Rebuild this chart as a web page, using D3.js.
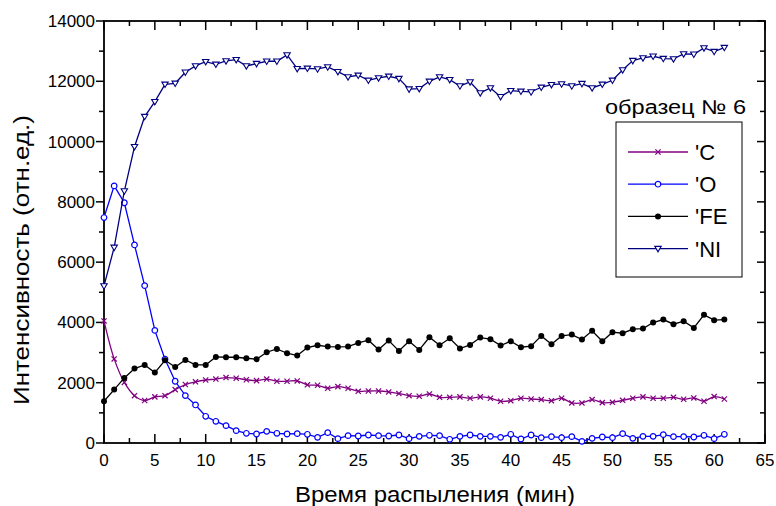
<!DOCTYPE html>
<html>
<head>
<meta charset="utf-8">
<script src="https://cdn.jsdelivr.net/npm/d3@7"></script>
<style>
  body { margin: 0; background: #fff; }
  text { font-family: "Liberation Sans", Arial, sans-serif; fill: #000; }
  .frame { fill: none; stroke: #000; stroke-width: 1.8; }
  .tick-mark { stroke: #000; stroke-width: 1.5; }
</style>
</head>
<body>
<svg class="chart"></svg>
<script>
// time, minutes
var minutes = [0,1,2,3,4,5,6,7,8,9,10,11,12,13,14,15,16,17,18,19,20,
  21,22,23,24,25,26,27,28,29,30,31,32,33,34,35,36,37,38,39,40,
  41,42,43,44,45,46,47,48,49,50,51,52,53,54,55,56,57,58,59,60,61];

var cValues = [4050,2790,2010,1570,1410,1530,1570,1770,1940,2030,2090,2120,2170,2150,2100,2070,
  2120,2050,2050,2060,1930,1915,1815,1870,1815,1715,1725,1725,1695,1640,1570,
  1550,1625,1515,1515,1530,1485,1530,1485,1385,1405,1485,1460,1440,1405,1485,
  1330,1330,1440,1340,1350,1415,1485,1530,1485,1485,1515,1450,1495,1385,1540,1460];

var oValues = [7480,8530,7970,6570,5220,3735,2780,2048,1572,1262,886,720,576,410,321,299,
  387,321,299,310,288,188,343,144,244,232,266,244,232,266,144,
  221,255,244,122,221,266,221,221,188,288,133,266,177,210,177,
  210,55,155,199,177,310,155,221,221,277,210,210,199,255,144,288];

var feValues = [1384,1771,2159,2469,2590,2336,2745,2524,2756,2590,2590,2856,2845,2845,2812,2779,
  3011,3122,2978,2900,3166,3243,3199,3188,3199,3321,3410,3100,3398,3055,3376,
  3089,3509,3243,3476,3133,3255,3498,3443,3232,3376,3177,3210,3553,3277,3553,
  3598,3432,3720,3376,3675,3642,3775,3797,3996,4096,3941,4041,3819,4251,4074,4096];

var niValues = [5210,6490,8360,9830,10830,11325,11900,11933,12300,12509,12652,12564,12675,12718,12509,12586,
  12664,12664,12874,12420,12431,12409,12475,12320,12144,12199,12033,12111,12166,12089,11740,
  11756,12000,12144,12055,11845,11978,11613,11779,11491,11690,11668,11646,11801,11889,11911,
  11845,11923,11779,11900,12033,12376,12686,12775,12830,12753,12742,12908,12897,13107,12985,13118];

var seriesNames = ["'C", "'O", "'FE", "'NI"];
var seriesColors = ["#800080", "#0000ff", "#000000", "#000080"];
var legendTitle = "образец № 6";

var xTicks = [0,5,10,15,20,25,30,35,40,45,50,55,60,65];
var yTicks = [0,2000,4000,6000,8000,10000,12000,14000];

var xLabel = "Время распыления (мин)";
var yLabel = "Интенсивность (отн.ед.)";

var W = 776, H = 506;
var margin = {top: 21, right: 11, bottom: 63, left: 104},
  width = W - margin.left - margin.right,
  height = H - margin.top - margin.bottom;

var chart = d3.select('.chart')
  .attr('width', W)
  .attr('height', H);

var g = chart.append('g')
  .attr('transform', 'translate(' + margin.left + ',' + margin.top + ')');

var x = d3.scaleLinear().domain([0, 65]).range([0, width]),
  y = d3.scaleLinear().domain([0, 14000]).range([height, 0]);

var xMinor = d3.range(0, 65.01, 2.5),
  yMinor = d3.range(0, 14001, 1000);

// tick marks: left outward, bottom/top/right inward
yMinor.forEach(function(v) {
  var major = v % 2000 === 0;
  g.append('line').attr('class', 'tick-mark')
    .attr('x1', major ? -8 : -5).attr('x2', 0)
    .attr('y1', y(v)).attr('y2', y(v));
  g.append('line').attr('class', 'tick-mark')
    .attr('x1', width - (major ? 8 : 5)).attr('x2', width)
    .attr('y1', y(v)).attr('y2', y(v));
});
xMinor.forEach(function(v) {
  var major = v % 5 === 0;
  g.append('line').attr('class', 'tick-mark')
    .attr('x1', x(v)).attr('x2', x(v))
    .attr('y1', height).attr('y2', height - (major ? 9 : 5));
  g.append('line').attr('class', 'tick-mark')
    .attr('x1', x(v)).attr('x2', x(v))
    .attr('y1', 0).attr('y2', major ? 9 : 5);
});

g.append('rect').attr('class', 'frame')
  .attr('x', 0).attr('y', 0)
  .attr('width', width).attr('height', height);

// tick labels
g.selectAll('.ylab').data(yTicks)
  .enter().append('text')
  .attr('x', -9).attr('y', function(d) { return y(d); })
  .attr('dy', '0.35em')
  .attr('text-anchor', 'end')
  .style('font-size', '17px')
  .text(function(d) { return d; });

g.selectAll('.xlab').data(xTicks)
  .enter().append('text')
  .attr('x', function(d) { return x(d); })
  .attr('y', height + 23)
  .attr('text-anchor', 'middle')
  .style('font-size', '17px')
  .text(function(d) { return d; });

// axis titles (reference text is a bit stretched, so fix the length)
chart.append('text')
  .attr('x', 295).attr('y', 502)
  .attr('textLength', 280).attr('lengthAdjust', 'spacingAndGlyphs')
  .style('font-size', '22px')
  .text(xLabel);

chart.append('text')
  .attr('transform', 'translate(29,405) rotate(-90)')
  .attr('textLength', 290).attr('lengthAdjust', 'spacingAndGlyphs')
  .style('font-size', '22px')
  .text(yLabel);

var series = [cValues, oValues, feValues, niValues];
var curves = [d3.curveCatmullRom, d3.curveLinear, d3.curveLinear, d3.curveLinear];

// marker drawing
function drawMarker(sel, k, color) {
  if (k === 0) {
    sel.append('path')
      .attr('d', 'M-2.6,-2.6L2.6,2.6M-2.6,2.6L2.6,-2.6')
      .attr('stroke', color).attr('stroke-width', 1.2).attr('fill', 'none');
  } else if (k === 1) {
    sel.append('circle').attr('r', 2.8)
      .attr('fill', '#fff').attr('stroke', color).attr('stroke-width', 1.2);
  } else if (k === 2) {
    sel.append('circle').attr('r', 3)
      .attr('fill', color);
  } else {
    sel.append('path')
      .attr('d', 'M-3.2,-2.2L3.2,-2.2L0,3.2Z')
      .attr('fill', '#fff').attr('stroke', color).attr('stroke-width', 1.1);
  }
}

series.forEach(function(vals, k) {
  var data = minutes.map(function(m, i) { return {t: m, v: vals[i]}; });
  var line = d3.line()
    .x(function(d) { return x(d.t); })
    .y(function(d) { return y(d.v); })
    .curve(curves[k]);
  g.append('path').datum(data)
    .attr('d', line)
    .attr('fill', 'none')
    .attr('stroke', seriesColors[k])
    .attr('stroke-width', 1.3);
  g.selectAll('.m' + k).data(data)
    .enter().append('g')
    .attr('class', 'm' + k)
    .attr('transform', function(d) { return 'translate(' + x(d.t) + ',' + y(d.v) + ')'; })
    .each(function() { drawMarker(d3.select(this), k, seriesColors[k]); });
});

// legend
chart.append('text')
  .attr('x', 605).attr('y', 114)
  .attr('textLength', 141).attr('lengthAdjust', 'spacingAndGlyphs')
  .style('font-size', '20px')
  .text(legendTitle);

var lg = chart.append('g');
lg.append('rect')
  .attr('x', 616).attr('y', 122)
  .attr('width', 126).attr('height', 155)
  .attr('fill', '#fff').attr('stroke', '#000').attr('stroke-width', 1);

seriesNames.forEach(function(name, k) {
  var yy = 152 + k * 32.2;
  lg.append('line')
    .attr('x1', 628).attr('x2', 688)
    .attr('y1', yy).attr('y2', yy)
    .attr('stroke', seriesColors[k]).attr('stroke-width', 1.3);
  var mk = lg.append('g').attr('transform', 'translate(658,' + yy + ')');
  drawMarker(mk, k, seriesColors[k]);
  lg.append('text')
    .attr('x', 695).attr('y', yy)
    .attr('dy', '0.36em')
    .style('font-size', '22px')
    .text(name);
});
</script>
</body>
</html>
